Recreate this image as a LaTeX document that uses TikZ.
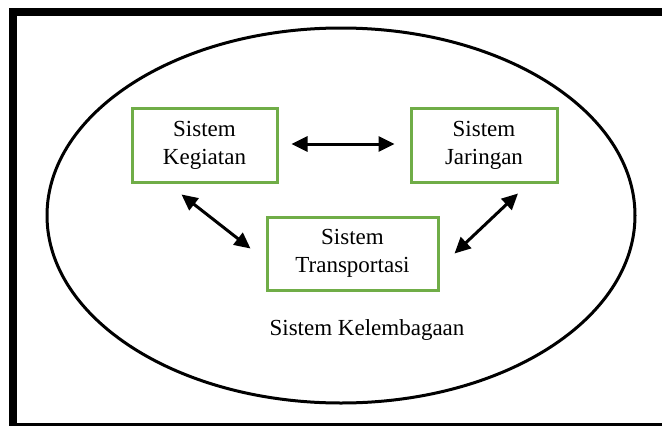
\documentclass[tikz,border=0pt]{standalone}
\usepackage{fontspec}
\setmainfont{Liberation Serif}
\usetikzlibrary{arrows.meta,calc}
\definecolor{boxgreen}{HTML}{70AD47}
\begin{document}
\begin{tikzpicture}[x=1pt,y=-1pt,
  sysbox/.style={draw=boxgreen,line width=3pt,rectangle,align=center,
    inner sep=0pt,font=\fontsize{23}{28}\selectfont},
  arr/.style={line width=3pt,{Triangle[length=16pt,width=15pt]}-{Triangle[length=16pt,width=15pt]}}
]
\useasboundingbox (0,0) rectangle (662,426);
\fill[white] (0,0) rectangle (662,426);
\draw[line width=8pt] (13,12) rectangle (668,427);
\draw[line width=3pt] (341,215.5) ellipse [x radius=294, y radius=187.5];
\node[sysbox,minimum width=145pt,minimum height=74pt] (keg) at (204.5,145) {Sistem\\Kegiatan};
\node[sysbox,minimum width=146pt,minimum height=74pt] (jar) at (484,145) {Sistem\\Jaringan};
\node[sysbox,minimum width=171pt,minimum height=73pt] (trans) at (352.5,253.5) {Sistem\\Transportasi};
\node[font=\fontsize{23}{28}\selectfont] (kel) at (367,330) {Sistem Kelembagaan};
\draw[arr] ($(keg.east)+(13,-1)$) -- ($(jar.west)+(-15,-1)$);
\draw[arr] ($(keg.south west)+(51,11)$) -- ($(trans.west)+(-15,-5)$);
\draw[arr] ($(jar.south)+(34,10)$) -- ($(trans.east)+(15,0)$);
\end{tikzpicture}
\end{document}
